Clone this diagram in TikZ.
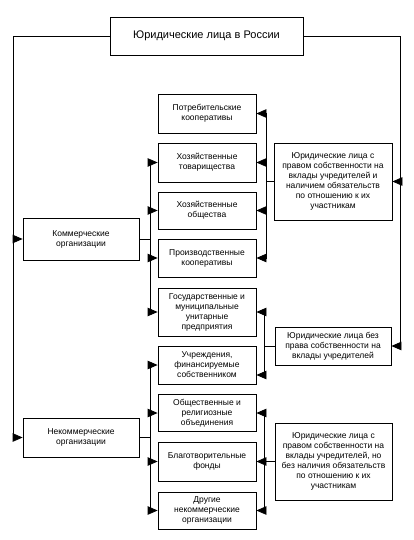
\documentclass[tikz,border=0pt]{standalone}
\usepackage{fontspec}
\setmainfont{Liberation Sans}
\usetikzlibrary{arrows.meta}
\begin{document}
\begin{tikzpicture}[x=1pt,y=-1pt,
  box/.style={draw, line width=0.8pt, align=center, inner sep=0pt,
    font=\fontsize{8.5}{10}\selectfont, minimum width=98pt},
  ln/.style={line width=0.8pt},
  arr/.style={ln, -{Triangle[length=10pt,width=8.5pt]}}]
\useasboundingbox (0,0) rectangle (414,540);
% boxes
\node[box, minimum width=193pt, minimum height=38pt, font=\fontsize{11}{13}\selectfont] (top) at (206.5,36) {Юридические лица в России};
\node[box, minimum height=39pt] (potr) at (207,113.5) {Потребительские\\кооперативы};
\node[box, minimum height=39pt] (htov) at (207,162.5) {Хозяйственные\\товарищества};
\node[box, minimum height=37pt] (hob) at (207,210.5) {Хозяйственные\\общества};
\node[box, minimum height=38pt] (prk) at (207,258) {Производственные\\кооперативы};
\node[box, minimum height=48pt] (gos) at (207,312) {Государственные и\\муниципальные\\унитарные\\предприятия};
\node[box, minimum height=38pt] (ucr) at (207,365) {Учреждения,\\финансируемые\\собственником};
\node[box, minimum height=37pt] (obs) at (207,413) {Общественные и\\религиозные\\объединения};
\node[box, minimum height=39pt] (blag) at (207,461.5) {Благотворительные\\фонды};
\node[box, minimum height=37pt] (drug) at (207,510.5) {Другие\\некоммерческие\\организации};
\node[box, minimum width=116pt, minimum height=42pt] (kom) at (81,239) {Коммерческие\\организации};
\node[box, minimum width=116pt, minimum height=39pt] (nekom) at (81,437.5) {Некоммерческие\\организации};
\node[box, minimum width=118pt, minimum height=77pt] (r1) at (333,181.5) {Юридические лица с\\правом собственности на\\вклады учредителей и\\наличием обязательств\\по отношению к их\\участникам};
\node[box, minimum width=116pt, minimum height=38pt] (r2) at (333,346) {Юридические лица без\\права собственности на\\вклады учредителей};
\node[box, minimum width=117pt, minimum height=77pt] (r3) at (333.5,461.5) {Юридические лица с\\правом собственности на\\вклады учредителей, но\\без наличия обязательств\\по отношению к их\\участникам};
% outer left
\coordinate (lt) at (13,36);
\draw[arr] (top.west) -- (lt) -- (lt |- nekom.west) -- (nekom.west);
\draw[arr] (lt |- kom.west) -- (kom.west);
% outer right
\coordinate (rt) at (400,36);
\draw[arr] (top.east) -- (rt) -- (rt |- r2.east) -- (r2.east);
\draw[arr] (rt |- r1.east) -- (r1.east);
% commercial bus
\coordinate (cb) at (150,0);
\draw[ln] (kom.east) -- (cb |- kom.east);
\draw[ln] (cb |- htov.west) -- (cb |- gos.west);
\foreach \n in {htov,hob,prk,gos} \draw[arr] (cb |- \n.west) -- (\n.west);
% noncommercial bus
\draw[ln] (nekom.east) -- (cb |- nekom.east);
\draw[ln] (cb |- ucr.west) -- (cb |- drug.west);
\foreach \n in {ucr,obs,blag,drug} \draw[arr] (cb |- \n.west) -- (\n.west);
% right bus 1
\coordinate (b1) at (266,0);
\draw[ln] (r1.west) -- (b1 |- r1.west);
\draw[ln] (b1 |- potr.east) -- (b1 |- prk.east);
\foreach \n in {potr,htov,hob,prk} \draw[arr] (b1 |- \n.east) -- (\n.east);
% right bus 2
\coordinate (b2) at (264,0);
\coordinate (ucrr) at ([yshift=-10pt]ucr.east);
\draw[ln] (r2.west) -- (b2 |- r2.west);
\draw[ln] (b2 |- gos.east) -- (b2 |- ucrr);
\draw[arr] (b2 |- gos.east) -- (gos.east);
\draw[arr] (b2 |- ucrr) -- (ucrr);
% right bus 3
\draw[ln] (r3.west) -- (b2 |- r3.west);
\draw[ln] (b2 |- obs.east) -- (b2 |- drug.east);
\foreach \n in {obs,blag,drug} \draw[arr] (b2 |- \n.east) -- (\n.east);
\end{tikzpicture}
\end{document}
